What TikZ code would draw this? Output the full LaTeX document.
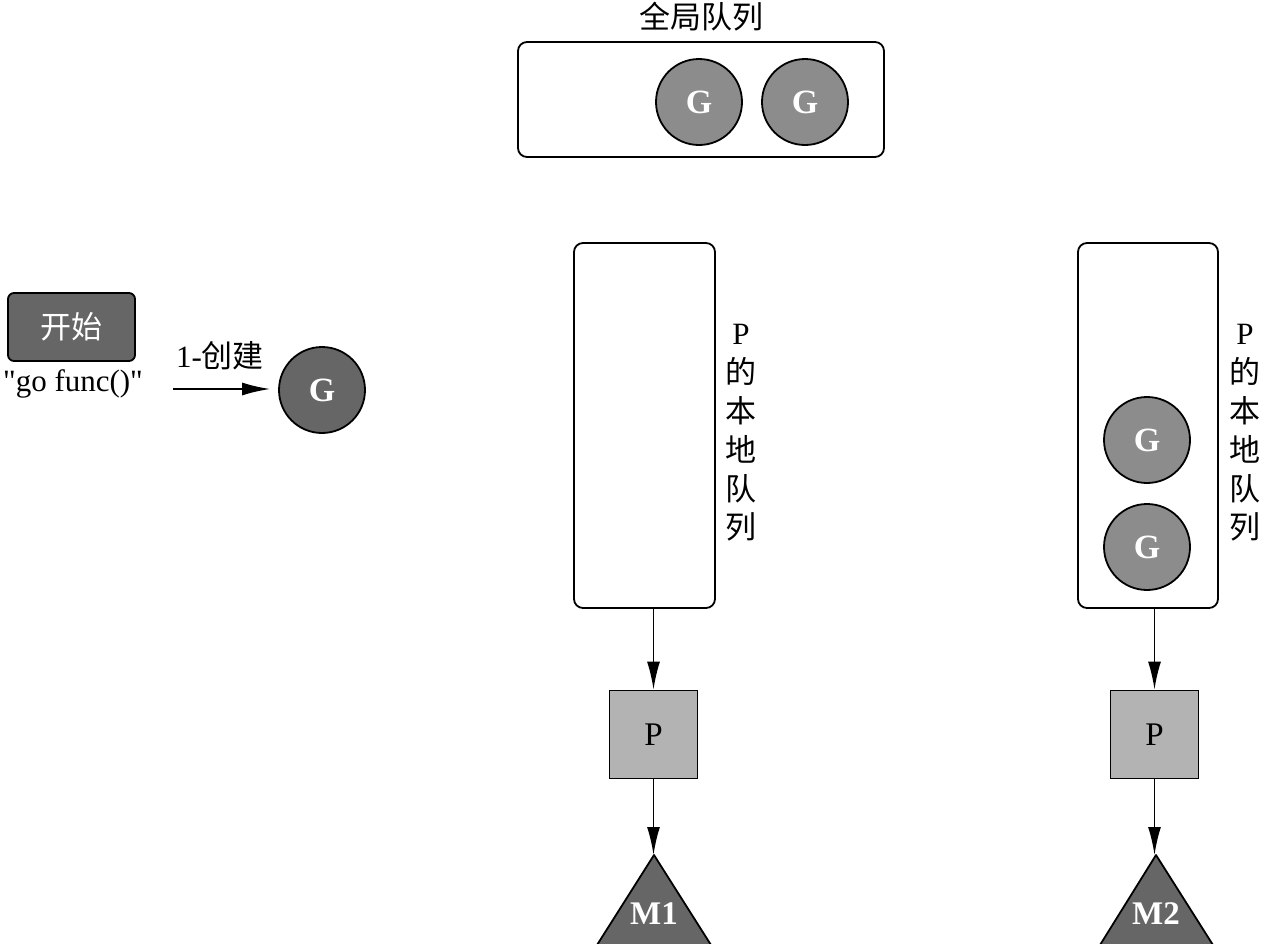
\documentclass[tikz,border=0pt]{standalone}
\usepackage{fontspec}
\setmainfont{Liberation Serif}
\newfontfamily\rawserif{Liberation Serif}
\newfontfamily\cjk{Noto Sans CJK SC}
\usetikzlibrary{arrows.meta}
\definecolor{darkg}{HTML}{666666}
\definecolor{midg}{HTML}{8C8C8C}
\definecolor{lightg}{HTML}{B3B3B3}
\begin{document}
\begin{tikzpicture}[x=1pt,y=-1pt,
  every node/.style={font=\fontsize{31}{37}\selectfont, inner sep=0pt},
  queuebox/.style={draw, line width=1.8pt, rounded corners=9pt},
  gnode/.style={circle, draw, line width=1.8pt, minimum size=86pt, text=white, font=\fontsize{34}{38}\selectfont\bfseries},
  pbox/.style={draw, line width=1.8pt, fill=lightg, minimum size=88pt, font=\fontsize{33}{38}\selectfont},
  arr/.style={line width=1.8pt, -{Latex[length=28pt,width=13pt]}},
  tri/.style={draw, line width=1.8pt, fill=darkg, line join=round},
  mlabel/.style={text=white, font=\fontsize{33}{37}\selectfont\bfseries},
  vlabel/.style={align=center, font=\fontsize{31}{38.8}\selectfont}
]
\useasboundingbox (0,0) rectangle (1261,943);

% global queue
\node[queuebox, minimum width=366pt, minimum height=115pt] (gq) at (701,99.5) {};
\node[font=\cjk\fontsize{31}{37}\selectfont] (gqlabel) at (701,17) {全局队列};
\node[gnode, fill=midg] (gq1) at (699,102) {G};
\node[gnode, fill=midg] (gq2) at (805,102) {G};

% start
\node[draw, line width=1.8pt, fill=darkg, rounded corners=6pt, minimum width=127pt, minimum height=68pt,
      text=white, font=\cjk\fontsize{31}{37}\selectfont] (start) at (71.5,327) {开始};
\node[font=\rawserif\fontsize{31}{37}\selectfont] (gofunc) at (73,384) {"go func()"};
\node[gnode, fill=darkg] (g0) at (322,390) {G};
\node (createlbl) at (220,356) {1-{\cjk 创建}};
\coordinate (a1) at (173,389);
\draw[arr] (a1) -- (a1 -| g0.west) [shorten >=8pt];

% local queue 1
\node[queuebox, minimum width=141pt, minimum height=365pt] (q1) at (644.5,425.5) {};
\node[vlabel] (q1lbl) at (741,433) {P\\{\cjk 的}\\{\cjk 本}\\{\cjk 地}\\{\cjk 队}\\{\cjk 列}};
\node[pbox] (p1) at (653.5,734.5) {P};
\draw[arr] (q1.south -| p1.north) -- (p1.north);
\coordinate (m1apex) at (654,855);
\draw[tri] (m1apex) -- (597,945) -- (711,945) -- cycle;
\node[mlabel] (m1) at (654,914) {M1};
\draw[arr] (p1.south) -- (p1.south |- m1apex);

% local queue 2
\node[queuebox, minimum width=140pt, minimum height=365pt] (q2) at (1148,425.5) {};
\node[gnode, fill=midg] (q2g1) at (1147,440) {G};
\node[gnode, fill=midg] (q2g2) at (1147,547) {G};
\node[vlabel] (q2lbl) at (1245,433) {P\\{\cjk 的}\\{\cjk 本}\\{\cjk 地}\\{\cjk 队}\\{\cjk 列}};
\node[pbox] (p2) at (1154.5,734.5) {P};
\draw[arr] (q2.south -| p2.north) -- (p2.north);
\coordinate (m2apex) at (1156,855);
\draw[tri] (m2apex) -- (1100,945) -- (1213,945) -- cycle;
\node[mlabel] (m2) at (1156,914) {M2};
\draw[arr] (p2.south) -- (p2.south |- m2apex);
\end{tikzpicture}
\end{document}
